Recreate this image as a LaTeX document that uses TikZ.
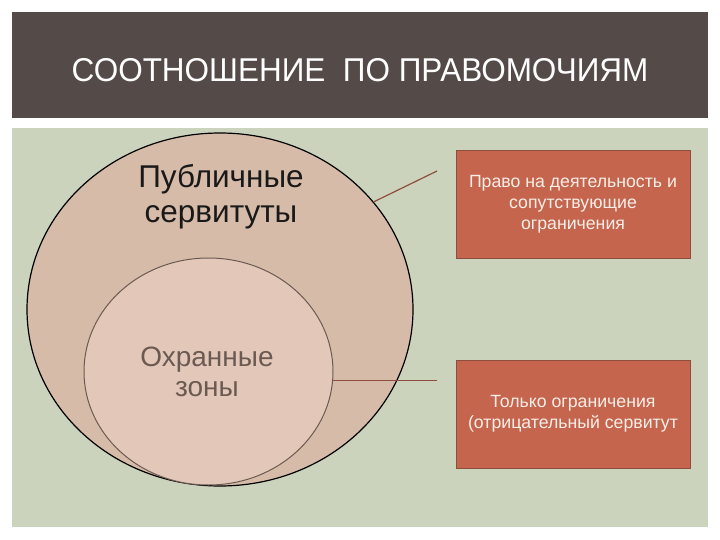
\documentclass[tikz,border=0pt]{standalone}
\usepackage{fontspec}
\setmainfont{Liberation Sans}
\newfontfamily\titlefont[FakeStretch=0.954]{Liberation Sans}
\usetikzlibrary{shapes.geometric}
\definecolor{band}{HTML}{544A48}
\definecolor{field}{HTML}{CCD3BC}
\definecolor{outer}{HTML}{D6BBA8}
\definecolor{inner}{HTML}{E3C8B9}
\definecolor{zonetext}{HTML}{6B5A52}
\definecolor{boxfill}{HTML}{C5654E}
\definecolor{boxedge}{HTML}{8E4E3E}
\definecolor{boxtext}{HTML}{F8EFE8}

\begin{document}
\begin{tikzpicture}[x=1pt, y=-1pt,
    right box/.style={draw=boxedge, fill=boxfill, line width=1pt, minimum width=234pt, minimum height=108pt, inner sep=0pt, text=boxtext, align=center, font=\fontsize{17.7}{21}\selectfont},
    link/.style={boxedge, line width=1.2pt}]
    \useasboundingbox (0,0) rectangle (720,540);
    \fill[white] (0,0) rectangle (720,540);
    % title band
    \fill[band] (12,12) rectangle (708,118);
    \node[white, font=\titlefont\fontsize{33}{38}\selectfont] (title) at (360,70) {СООТНОШЕНИЕ\ \ ПО ПРАВОМОЧИЯМ};
    \fill[field] (12,128) rectangle (708,527);
    %
    \node[ellipse, draw=black, fill=outer, line width=1.2pt, minimum width=386pt, minimum height=353pt, inner sep=0pt] (pub) at (220,309.5) {};
    \node[ellipse, draw=zonetext, fill=inner, line width=1pt, minimum width=249pt, minimum height=227pt, inner sep=0pt] (zone) at (208.5,371.5) {};
    \node[align=center, text=black!90, font=\fontsize{31.5}{35}\selectfont] (pubtext) at (221,197) {Публичные\\сервитуты};
    \node[align=center, text=zonetext, font=\fontsize{28}{30}\selectfont] (zonetext) at (207,372) {Охранные\\зоны};
    %
    \node[right box] (rights) at (573,204.5) {Право на деятельность и\\сопутствующие\\ограничения};
    \node[right box] (limits) at (573,414) {Только ограничения\\(отрицательный сервитут};
    %
    \coordinate (c1) at (437,171);
    \coordinate (c2) at (437,380);
    \draw[link] (pub.35.5) -- (c1);
    \draw[link] (zone.-4) -- (zone.-4 -| c2);
\end{tikzpicture}
\end{document}
